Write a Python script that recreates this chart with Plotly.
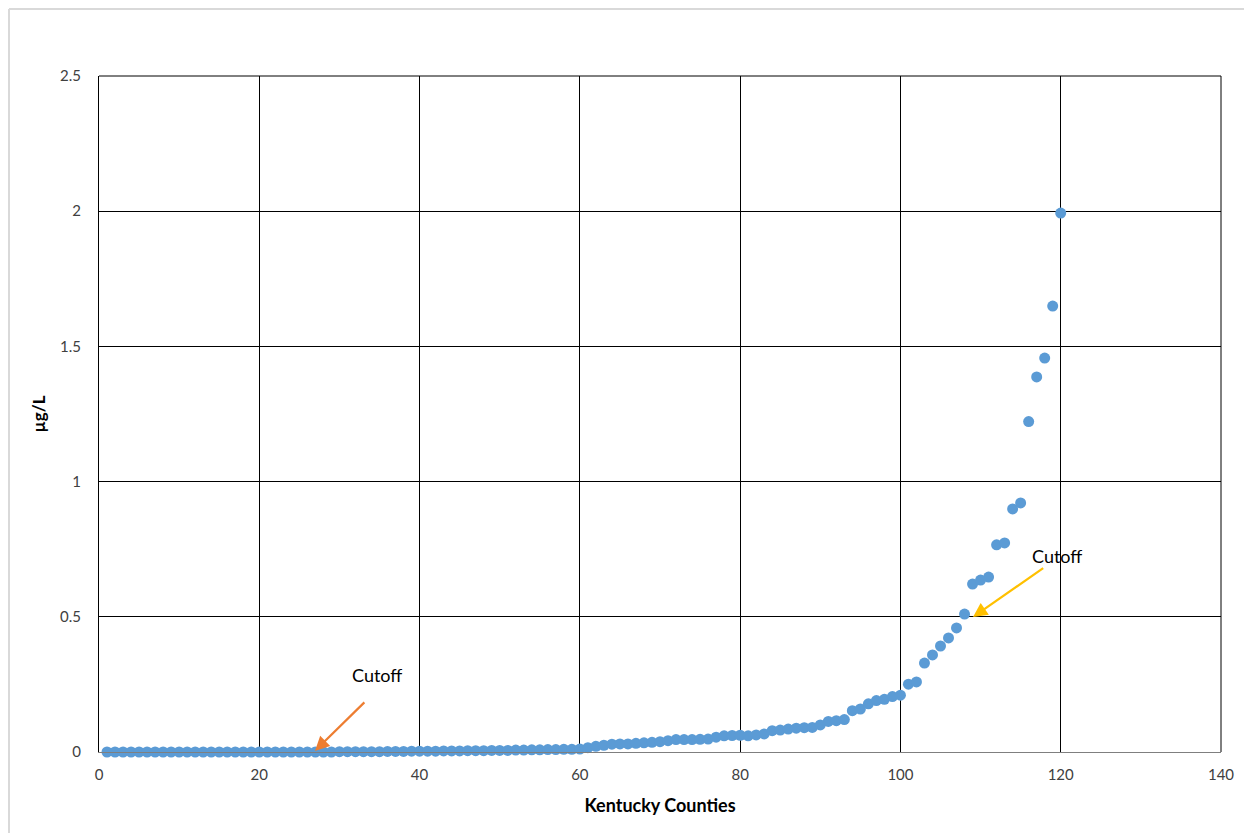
import plotly.graph_objects as go

counties = list(range(1, 121))
values = [
    # 1-30
    0.000, 0.000, 0.000, 0.000, 0.000, 0.000, 0.000, 0.000, 0.000, 0.000,
    0.000, 0.000, 0.000, 0.000, 0.000, 0.000, 0.000, 0.000, 0.000, 0.000,
    0.000, 0.000, 0.000, 0.000, 0.000, 0.000, 0.000, 0.000, 0.000, 0.001,
    # 31-60
    0.001, 0.001, 0.001, 0.001, 0.001, 0.002, 0.002, 0.002, 0.003, 0.003,
    0.003, 0.003, 0.004, 0.004, 0.004, 0.005, 0.005, 0.005, 0.006, 0.006,
    0.006, 0.007, 0.007, 0.008, 0.008, 0.009, 0.009, 0.010, 0.010, 0.011,
    # 61-90
    0.016, 0.021, 0.025, 0.029, 0.030, 0.030, 0.032, 0.034, 0.036, 0.038,
    0.042, 0.046, 0.046, 0.046, 0.047, 0.048, 0.055, 0.060, 0.061, 0.062,
    0.060, 0.063, 0.067, 0.079, 0.081, 0.085, 0.088, 0.090, 0.091, 0.100,
    # 91-120
    0.113, 0.116, 0.120, 0.153, 0.159, 0.178, 0.190, 0.195, 0.205, 0.210,
    0.251, 0.259, 0.329, 0.359, 0.392, 0.422, 0.459, 0.510, 0.621, 0.636,
    0.647, 0.766, 0.773, 0.899, 0.921, 1.222, 1.387, 1.457, 1.649, 1.993,
]

x_ticks = [0, 20, 40, 60, 80, 100, 120, 140]
y_ticks = [0, 0.5, 1, 1.5, 2, 2.5]
y_tick_text = ["0", "0.5", "1", "1.5", "2", "2.5"]

cutoffs = [
    dict(hx=26.95, hy=0.004, tx=33.3, ty=0.189, lx=34.7, ly=0.285, color="#ED7D31"),
    dict(hx=109.06, hy=0.499, tx=118.0, ty=0.684, lx=119.5, ly=0.725, color="#FFC000"),
]

FONT = "Lato, Carlito, Calibri, sans-serif"

fig = go.Figure()
fig.add_trace(go.Scatter(
    x=counties, y=values, mode="markers",
    marker=dict(color="#5B9BD5", size=11, line=dict(width=0)),
    showlegend=False, cliponaxis=False,
))

for c in cutoffs:
    fig.add_annotation(
        x=c["hx"], y=c["hy"], ax=c["tx"], ay=c["ty"],
        xref="x", yref="y", axref="x", ayref="y",
        text="", showarrow=True, arrowhead=2, arrowsize=1.3,
        arrowwidth=2.2, arrowcolor=c["color"],
    )
    fig.add_annotation(
        x=c["lx"], y=c["ly"], xref="x", yref="y", text="Cutoff",
        showarrow=False, font=dict(family=FONT, size=18, color="#000000"),
    )

# outer frame (light gray): left and top edges, at the figure's edges
fig.add_shape(type="line", xref="paper", yref="paper",
              x0=-0.0802, y0=-0.12, x1=-0.0802, y1=1.0991,
              line=dict(color="#d9d9d9", width=2), layer="below")
fig.add_shape(type="line", xref="paper", yref="paper",
              x0=-0.0802, y0=1.0991, x1=1.027, y1=1.0991,
              line=dict(color="#d9d9d9", width=2), layer="below")

fig.update_layout(
    width=1244, height=832,
    margin=dict(l=91, r=31, t=68, b=88),
    paper_bgcolor="#ffffff", plot_bgcolor="#ffffff",
    xaxis=dict(
        range=[0, 140], tickvals=x_ticks, showgrid=True,
        gridcolor="#000000", gridwidth=1, zeroline=False,
        showline=True, linecolor="#7f7f7f", linewidth=1, mirror=False,
        ticks="", ticklabelstandoff=9,
        tickfont=dict(family=FONT, size=15, color="#404040"),
        title=dict(text="<b>Kentucky Counties</b>",
                   font=dict(family=FONT, size=18, color="#000000"),
                   standoff=17),
    ),
    yaxis=dict(
        range=[0, 2.5], tickvals=y_ticks, ticktext=y_tick_text, showgrid=True,
        gridcolor="#000000", gridwidth=1, zeroline=False,
        showline=True, linecolor="#000000", linewidth=1,
        ticks="", ticklabelstandoff=14,
        tickfont=dict(family=FONT, size=15, color="#404040"),
        title=dict(text="<b>µg/L</b>",
                   font=dict(family=FONT, size=17, color="#000000"),
                   standoff=10),
    ),
)

fig.add_shape(type="line", xref="paper", yref="paper", x0=0, y0=1, x1=1, y1=1,
              line=dict(color="#000000", width=1))
fig.add_shape(type="line", xref="paper", yref="paper", x0=1, y0=0, x1=1, y1=1,
              line=dict(color="#000000", width=1))

fig.write_html("out.html")
